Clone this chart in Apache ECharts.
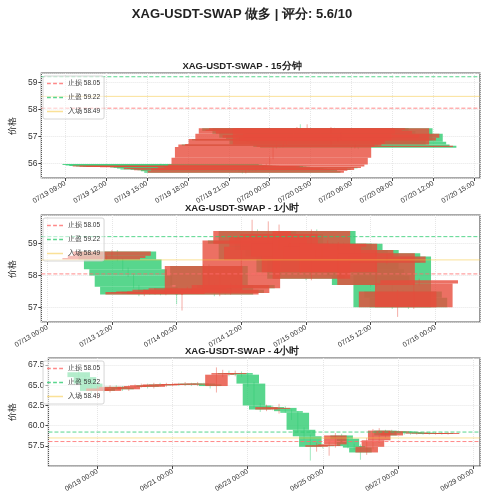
<!DOCTYPE html>
<html><head><meta charset="utf-8">
<script src="https://cdn.jsdelivr.net/npm/echarts@6/dist/echarts.min.js"></script>
<style>html,body{margin:0;padding:0;background:#fff}#c{width:484px;height:500px}</style>
</head><body><div id="c"></div>
<script>
const mainTitle = 'XAG-USDT-SWAP 做多 | 评分: 5.6/10';
const panelTitles = ['XAG-USDT-SWAP - 15分钟','XAG-USDT-SWAP - 1小时','XAG-USDT-SWAP - 4小时'];
const stopLoss = 58.05, takeProfit = 59.22, entry = 58.49;
const refNames = ['止损 58.05','止盈 59.22','入场 58.49'];

// 15 minute candles: start 07/19 16:00, step 15 min
const m15Start = Date.UTC(2025,6,19,16,0), m15Step = 15*60000;
const m15FirstOpen = 55.97;
const m15Close = [55.95,55.93,55.92,55.92,55.90,55.91,55.90,55.90,55.89,55.90,55.88,55.89,55.90,55.88,55.87,55.85,
55.80,55.78,55.82,55.80,55.76,55.78,55.75,55.70,
55.65,55.72,55.80,55.75,55.85,55.82,55.88,55.95,
56.20,56.60,56.70,56.65,56.72,56.90,56.85,57.10,57.30,57.20,57.25,57.30,
57.10,57.20,56.95,57.05,56.90,56.70,57.30,56.85,
56.95,57.10,56.80,56.70,56.60,56.65,56.58];
const m15High = [55.98,55.96,55.95,55.94,55.93,55.93,55.92,55.92,55.91,55.92,55.91,55.91,55.92,55.91,55.89,55.88,
55.86,55.82,55.84,55.84,55.81,55.80,55.79,55.76,
55.72,55.75,55.83,55.82,55.88,55.87,55.90,55.98,
56.25,56.65,56.78,56.75,56.78,56.95,56.95,57.15,57.35,57.45,57.30,57.45,
57.32,57.25,57.22,57.10,57.08,56.92,57.35,57.32,
57.00,57.15,57.12,56.85,56.75,56.70,56.68];
const m15Low = [55.94,55.91,55.90,55.90,55.88,55.88,55.88,55.87,55.86,55.87,55.86,55.86,55.87,55.86,55.85,55.82,
55.78,55.75,55.76,55.78,55.74,55.74,55.72,55.66,
55.62,55.62,55.70,55.72,55.73,55.78,55.80,55.86,
55.93,56.15,56.55,56.58,56.60,56.68,56.80,56.82,57.05,57.12,57.15,57.18,
57.05,57.05,56.90,56.92,56.85,56.65,56.68,56.80,
56.80,56.90,56.75,56.62,56.55,56.55,56.52];

// 1 hour candles: start 07/13 10:00
const h1Start = Date.UTC(2025,6,13,10,0), h1Step = 3600000;
const h1FirstOpen = 58.50;
const h1Close = [58.55,58.62,58.75,58.50,58.20,58.00,57.65,57.40,57.48,57.45,
57.50,57.42,57.50,57.55,57.48,57.55,57.60,57.55,57.50,58.30,
57.70,57.40,57.55,57.45,57.70,57.60,59.10,59.00,59.40,58.50,
58.90,59.20,58.80,59.30,58.60,59.00,58.10,58.60,57.90,59.40,
58.50,58.90,59.00,58.10,59.00,58.80,58.60,58.80,58.20,58.00,
57.70,58.70,58.40,58.60,57.00,57.50,57.30,57.00,57.75,57.85];
const h1High = [58.58,58.66,58.80,58.80,58.55,58.25,58.05,57.70,57.55,57.55,
57.60,57.55,57.60,57.62,57.60,57.60,57.65,57.65,57.60,58.35,
58.35,57.75,58.00,57.60,57.75,57.75,59.15,59.15,59.75,59.45,
58.95,59.70,59.25,59.60,59.35,59.05,59.05,58.65,58.65,59.45,
59.45,58.95,59.10,59.05,59.05,59.05,58.85,58.85,58.85,58.25,
58.05,58.75,58.75,58.65,58.65,57.55,57.55,57.35,57.80,57.90];
const h1Low = [58.45,58.50,58.58,58.45,58.15,57.95,57.60,57.35,57.35,57.40,
57.40,57.38,57.38,57.45,57.10,56.90,57.50,57.50,57.45,57.45,
57.65,57.35,57.35,57.40,57.40,57.55,57.55,58.95,58.95,58.45,
58.45,58.85,58.75,58.75,58.55,58.55,58.05,58.05,57.85,57.85,
58.45,58.45,58.85,58.05,58.05,58.75,58.55,58.55,58.15,57.95,
57.65,57.65,58.35,58.35,56.95,56.70,57.25,56.95,56.95,57.70];

// 4 hour candles: start 06/18 12:00
const h4Start = Date.UTC(2025,5,18,12,0), h4Step = 4*3600000;
const h4FirstOpen = 66.6;
const h4Close = [66.0,65.2,64.3,64.6,64.3,64.8,64.7,64.5,64.8,64.9,65.0,64.8,65.1,65.0,65.1,65.15,65.1,65.2,65.1,65.2,65.1,
64.9,66.3,66.5,66.4,66.5,66.3,65.2,62.5,62.0,62.3,62.1,62.2,61.8,61.6,59.5,58.7,57.4,57.6,57.5,57.7,58.8,58.4,57.5,57.3,
56.7,57.4,58.2,59.4,58.8,59.3,59.3,59.2,59.1,59.15,59.1,59.05,59.1,59.05,59.1];
const h4High = [66.8,66.2,65.5,64.9,64.8,65.0,65.0,64.9,65.0,65.1,65.2,65.2,65.3,65.3,65.3,65.3,65.3,65.4,65.3,65.4,65.3,
65.2,67.2,66.9,66.8,66.8,66.7,66.5,65.4,62.8,62.6,62.5,62.7,62.4,62.0,61.8,59.8,58.9,57.9,57.8,58.0,59.1,59.0,58.6,57.8,
57.7,58.5,59.6,59.7,59.5,59.5,59.4,59.3,59.3,59.3,59.2,59.2,59.2,59.2,59.2];
const h4Low = [65.8,65.0,64.0,63.3,64.1,64.1,64.5,64.3,64.3,64.6,64.7,64.6,64.6,64.8,64.8,64.9,64.9,64.9,64.9,64.9,64.9,
64.6,64.1,66.0,66.1,66.1,66.0,64.8,62.2,61.7,61.8,61.9,61.5,61.6,60.7,59.2,58.3,55.7,56.8,57.2,56.3,57.3,58.1,57.2,57.0,
55.8,56.4,57.1,57.9,58.5,59.0,59.0,58.9,58.9,58.9,58.9,58.9,58.9,58.9,58.9];

function build(start, step, firstOpen, close, high, low){
  return close.map((c,i)=>[start+i*step, i===0?firstOpen:close[i-1], c, low[i], high[i]]);
}
const panels = [
  {data: build(m15Start,m15Step,m15FirstOpen,m15Close,m15High,m15Low), xmin: Date.UTC(2025,6,19,7,15), xmax: Date.UTC(2025,6,20,15,26), xint: 3*3600000, ymin:55.45, ymax:59.36, yint:1, top:73, h:105, dec:0},
  {data: build(h1Start,h1Step,h1FirstOpen,h1Close,h1High,h1Low), xmin: Date.UTC(2025,6,12,22,54), xmax: Date.UTC(2025,6,16,8,17), xint: 12*3600000, ymin:56.54, ymax:59.9, yint:1, top:215, h:107, dec:0},
  {data: build(h4Start,h4Step,h4FirstOpen,h4Close,h4High,h4Low), xmin: Date.UTC(2025,5,17,16,40), xmax: Date.UTC(2025,5,29,4,24), xint: 2*86400000, ymin:55.03, ymax:68.36, yint:2.5, top:358, h:108, dec:1}
];
const HALF = 0.3*86400000;
const pad = n => String(n).padStart(2,'0');
const fmt = v => { const d = new Date(v); return pad(d.getUTCMonth()+1)+'/'+pad(d.getUTCDate())+' '+pad(d.getUTCHours())+':'+pad(d.getUTCMinutes()); };

function makeRender(up){
  return function(params, api){
    const t=api.value(0), o=api.value(1), c=api.value(2), l=api.value(3), h=api.value(4);
    if ((c>=o) !== up) return null;
    const p1=api.coord([t-HALF, Math.max(o,c)]), p2=api.coord([t+HALF, Math.min(o,c)]);
    const wt=api.coord([t,h]), wb=api.coord([t,l]);
    const col = up ? '#e74c3c' : '#2ecc71';
    return {type:'group', children:[
      {type:'rect', shape:{x:p1[0], y:p1[1], width:p2[0]-p1[0], height:Math.max(1,p2[1]-p1[1])}, style:{fill:col, opacity:0.8}},
      {type:'line', shape:{x1:wt[0],y1:wt[1],x2:wb[0],y2:wb[1]}, style:{stroke:col, lineWidth:1, opacity:0.45}}
    ]};
  };
}
const dashIcon = 'path://M0,0H5V2H0Z M8,0H13V2H8Z M16,0H21V2H16Z';
const solidIcon = 'path://M0,0H21V2H0Z';

const grids=[], xAxes=[], yAxes=[], series=[], titles=[], legends=[];
titles.push({text: mainTitle, left:'center', top:3, textStyle:{fontSize:13, fontWeight:'bold', color:'#222'}});
panels.forEach((p,i)=>{
  grids.push({left:40, right:4, top:p.top, height:p.h, show:true, borderColor:'#555', borderWidth:1.2, backgroundColor:'#fff'});
  titles.push({text: panelTitles[i], left:'center', top:p.top-17, textStyle:{fontSize:9.5, fontWeight:'bold', color:'#222'}});
  xAxes.push({type:'value', gridIndex:i, min:p.xmin, max:p.xmax, minInterval:p.xint, maxInterval:p.xint,
    axisLine:{show:false}, axisTick:{show:true, lineStyle:{color:'#444'}, length:3},
    splitLine:{show:true, lineStyle:{color:'#e6e6e6', type:'dotted'}},
    axisLabel:{formatter:fmt, rotate:30, fontSize:7, color:'#333', margin:5, showMinLabel:false, showMaxLabel:false}});
  yAxes.push({type:'value', gridIndex:i, min:p.ymin, max:p.ymax, minInterval:p.yint, maxInterval:p.yint,
    name:'价格', nameLocation:'middle', nameGap:24, nameTextStyle:{fontSize:9, color:'#222'},
    axisLine:{show:false}, axisTick:{show:true, lineStyle:{color:'#444'}, length:3},
    splitLine:{show:true, lineStyle:{color:'#e6e6e6', type:'dotted'}},
    axisLabel:{fontSize:8.5, color:'#333', margin:4, showMinLabel:false, showMaxLabel:false, formatter: v=>v.toFixed(p.dec)}});
  [false,true].forEach(up=>{
    series.push({type:'custom', xAxisIndex:i, yAxisIndex:i, data:p.data, renderItem:makeRender(up), clip:true, z:up?3:2, encode:{x:0,y:[1,2,3,4]}});
  });
  const refs=[[stopLoss,'rgba(255,107,107,0.8)','dashed'],[takeProfit,'rgba(46,204,113,0.8)','dashed'],[entry,'rgba(245,200,66,0.55)','solid']];
  refs.forEach((r,k)=>{
    series.push({type:'line', name:refNames[k], xAxisIndex:i, yAxisIndex:i, data:[[p.xmin,r[0]],[p.xmax,r[0]]],
      symbol:'none', silent:true, z:4, lineStyle:{color:r[1], width:1, type:r[2]}, itemStyle:{color:r[1]}});
  });
  legends.push({data:refNames.map((n,k)=>({name:n, icon: k<2?dashIcon:solidIcon})), orient:'vertical', left:43, top:p.top+3, itemWidth:16, itemHeight:2, itemGap:7,
    backgroundColor:'rgba(255,255,255,0.55)', borderColor:'#ccc', borderWidth:0.8, borderRadius:2, padding:[4,4], z:10,
    textStyle:{fontSize:6.5, color:'#333'}, selectedMode:false});
});
const chart = echarts.init(document.getElementById('c'));
chart.setOption({animation:false, backgroundColor:'#fff', title:titles, legend:legends, grid:grids, xAxis:xAxes, yAxis:yAxes, series});
</script></body></html>
